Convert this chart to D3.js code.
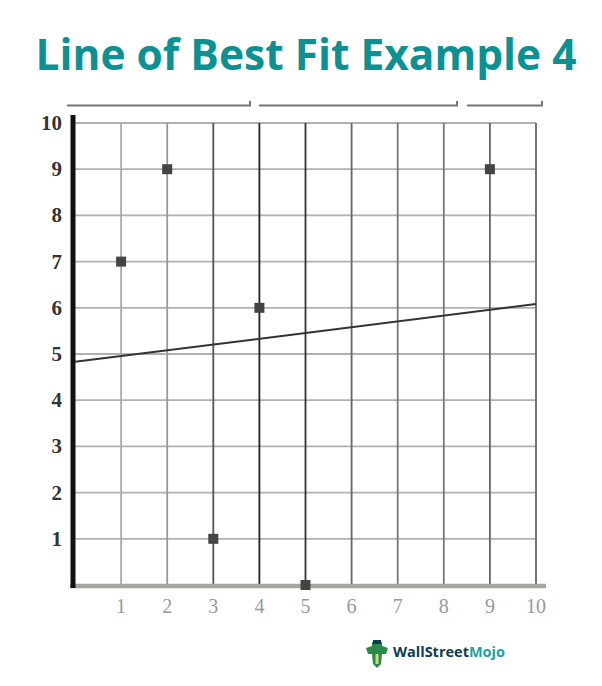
<!DOCTYPE html>
<html><head><meta charset="utf-8">
<script src="https://cdn.jsdelivr.net/npm/d3@7"></script>
<style>body{margin:0;background:#fff}svg{display:block}</style>
</head><body>
<script>
const title = "Line of Best Fit Example 4";
const xTicks = [1,2,3,4,5,6,7,8,9,10];
const yTicks = [1,2,3,4,5,6,7,8,9,10];
const pointsX = [1,2,3,4,5,9];
const pointsY = [7,9,1,6,0,9];
const fitX = [0,10];
const fitY = [4.83,6.08];
const gridShade = ["#aaa","#999","#555","#222","#333","#666","#777","#777","#666","#666"];

const W=602,H=686;
const svg=d3.select("body").append("svg").attr("width",W).attr("height",H);
svg.append("text").attr("x",306).attr("y",70).attr("text-anchor","middle")
 .attr("font-family","Open Sans").attr("font-weight","bold").attr("font-size",42.5)
 .attr("fill","#0b9191").text(title);

const x=d3.scaleLinear().domain([0,10]).range([75,536]);
const y=d3.scaleLinear().domain([0,10]).range([585,123]);

// top partial bars
const topSegs=[[67,250],[259,457],[467,542]];
topSegs.forEach(s=>{
  svg.append("path").attr("d",`M${s[0]},105.5H${s[1]}V101`).attr("fill","none")
   .attr("stroke","#777").attr("stroke-width",2);
});

// horizontal grid
svg.append("g").selectAll("line").data(yTicks).join("line")
 .attr("x1",x(0)).attr("x2",x(10)).attr("y1",d=>y(d)).attr("y2",d=>y(d))
 .attr("stroke","#b0b0b0").attr("stroke-width",1.8);
// vertical grid
svg.append("g").selectAll("line").data(xTicks).join("line")
 .attr("x1",d=>x(d)).attr("x2",d=>x(d)).attr("y1",y(10)).attr("y2",y(0))
 .attr("stroke",(d,i)=>gridShade[i]).attr("stroke-width",1.8);

// x axis thick
svg.append("line").attr("x1",70).attr("x2",546).attr("y1",y(0)+1).attr("y2",y(0)+1)
 .attr("stroke","#a9a6a0").attr("stroke-width",4.5);
// y axis thick
svg.append("line").attr("x1",73).attr("x2",73).attr("y1",115).attr("y2",588)
 .attr("stroke","#111").attr("stroke-width",5);

// labels
svg.append("g").selectAll("text").data(yTicks).join("text")
 .attr("x",62).attr("y",d=>y(d)+7).attr("text-anchor","end")
 .attr("font-family","Liberation Serif").attr("font-weight","bold").attr("font-size",21)
 .attr("fill","#333").text(d=>d);
svg.append("g").selectAll("text").data(xTicks).join("text")
 .attr("x",d=>x(d)).attr("y",613).attr("text-anchor","middle")
 .attr("font-family","Liberation Serif").attr("font-size",20)
 .attr("fill","#999").text(d=>d);

// fit line
svg.append("line").attr("x1",x(fitX[0])).attr("y1",y(fitY[0])).attr("x2",x(fitX[1])).attr("y2",y(fitY[1]))
 .attr("stroke","#333").attr("stroke-width",2);

// points
svg.append("g").selectAll("rect").data(pointsX).join("rect")
 .attr("x",d=>x(d)-5).attr("y",(d,i)=>y(pointsY[i])-5).attr("width",10).attr("height",10)
 .attr("fill","#444");

// logo
const lg=svg.append("g").attr("transform","translate(362,640)");
lg.append("path").attr("d","M4,8 L10,6 L10,2 L20,2 L20,6 L26,8 L24,14 L20,14 L19,24 L15,28 L11,24 L10,14 L6,14 Z").attr("fill","#2a8a4a");
lg.append("rect").attr("x",11).attr("y",0).attr("width",8).attr("height",4).attr("fill","#0d3b52");
lg.append("path").attr("d","M15,14 L15,24").attr("stroke","#c8e06a").attr("stroke-width",3);
const t=lg.append("text").attr("x",31).attr("y",17).attr("font-family","Open Sans").attr("font-weight","bold").attr("font-size",14.5);
t.append("tspan").attr("fill","#0d3b52").text("WallStreet");
t.append("tspan").attr("fill","#1aa3a3").text("Mojo");
</script>
</body></html>
